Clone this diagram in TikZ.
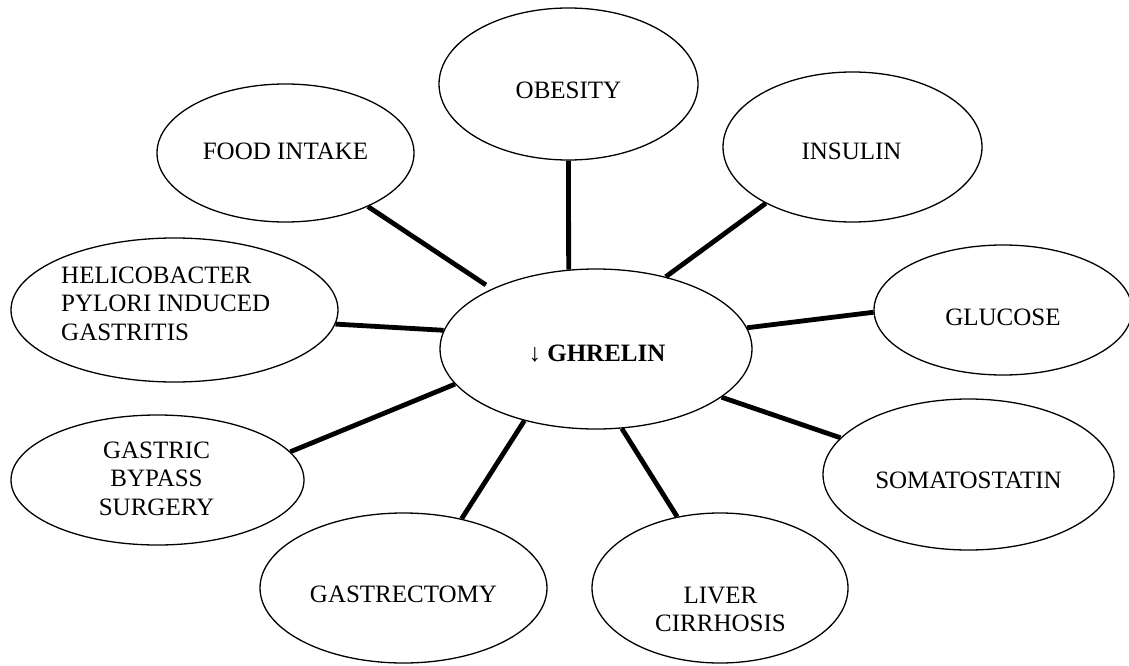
\documentclass[tikz,border=0pt]{standalone}
\usepackage{fontspec}
\setmainfont{Liberation Serif}
\usetikzlibrary{shapes.geometric}
\begin{document}
\begin{tikzpicture}[x=1pt,y=-1pt,
  bubble/.style={draw=black, line width=1.3pt, ellipse, inner sep=0pt},
  lbl/.style={anchor=base, inner sep=0pt, font=\fontsize{25}{28.5}\selectfont},
  link/.style={line width=4.8pt, draw=black}]
\useasboundingbox (0,0) rectangle (1129,666);
% ellipses
\node[bubble, minimum width=312pt, minimum height=160pt] (c) at (596,349) {};
\node[bubble, minimum width=259pt, minimum height=152pt] (ob) at (568.5,84) {};
\node[bubble, minimum width=257pt, minimum height=138pt] (food) at (285.5,153) {};
\node[bubble, minimum width=259pt, minimum height=150pt] (ins) at (852.5,147) {};
\node[bubble, minimum width=327pt, minimum height=144pt] (heli) at (174.5,310) {};
\node[bubble, minimum width=258pt, minimum height=130pt] (glu) at (1003,310) {};
\node[bubble, minimum width=293pt, minimum height=130pt] (gb) at (157.5,480) {};
\node[bubble, minimum width=291pt, minimum height=151pt] (som) at (968.5,474.5) {};
\node[bubble, minimum width=287pt, minimum height=150pt] (gt) at (403.5,588) {};
\node[bubble, minimum width=256pt, minimum height=150pt] (liv) at (720,588) {};
% texts
\node[lbl] (tc) at (597,361) {↓ \textbf{GHRELIN}};
\node[lbl] (tob) at (568.5,99) {OBESITY};
\node[lbl] (tfood) at (285.5,159) {FOOD INTAKE};
\node[lbl] (tins) at (851.5,159) {INSULIN};
\node[lbl, anchor=base west] (theli) at (61,283) {\begin{tabular}[t]{@{}l@{}}HELICOBACTER\\PYLORI INDUCED\\GASTRITIS\end{tabular}};
\node[lbl] (tglu) at (1003,325) {GLUCOSE};
\node[lbl] (tgb) at (156.5,458) {\begin{tabular}[t]{@{}c@{}}GASTRIC\\BYPASS\\SURGERY\end{tabular}};
\node[lbl] (tsom) at (968.5,488) {SOMATOSTATIN};
\node[lbl] (tgt) at (403.5,602) {GASTRECTOMY};
\node[lbl] (tliv) at (720.5,603) {\begin{tabular}[t]{@{}c@{}}LIVER\\CIRRHOSIS\end{tabular}};
% connectors
\draw[link] (c.109.3) -- (ob.270);
\draw[link] (c.46.2) -- (ins.213.5);
\draw[link, shorten <=7pt] (c.150.4) -- (food.327.8);
\draw[link] (c.173.7) -- (heli.355.8);
\draw[link] (c.194.7) -- (gb.12.5);
\draw[link] (c.225) -- (gt.50);
\draw[link] (c.288) -- (liv.121.2);
\draw[link] (c.339.9) -- (som.164);
\draw[link] (c.8.3) -- (glu.181.3);
\end{tikzpicture}
\end{document}
